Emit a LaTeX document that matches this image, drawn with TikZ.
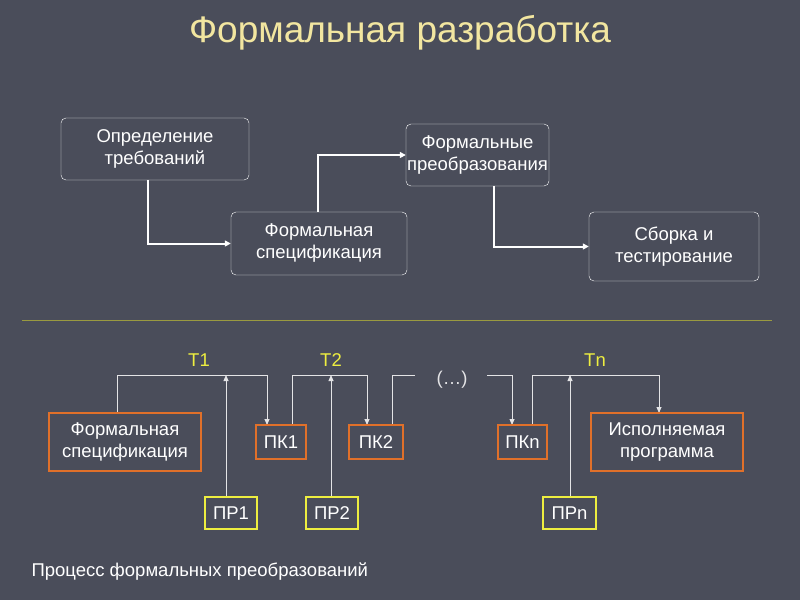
\documentclass[tikz,border=0pt]{standalone}
\usepackage{fontspec}
\setmainfont{Liberation Sans}
\usetikzlibrary{arrows.meta}
\definecolor{bg}{HTML}{4A4D5A}
\definecolor{ttl}{HTML}{F2E6A0}
\definecolor{org}{HTML}{E0702A}
\definecolor{yel}{HTML}{EEEE40}
\definecolor{sep}{HTML}{9A9A40}
\tikzset{
 top/.style={draw=white,fill=bg,rounded corners=5pt,text=white,align=center,font=\fontsize{18.5}{22}\selectfont,inner sep=0pt},
 obox/.style={draw=org,line width=1.3pt,text=white,align=center,font=\fontsize{18.5}{22}\selectfont,inner sep=0pt},
 ybox/.style={draw=yel,line width=1.3pt,text=white,align=center,font=\fontsize{18.5}{22}\selectfont,inner sep=0pt},
 conn/.style={white,line width=2pt,-{Triangle[length=6pt,width=6pt]}},
 bus/.style={white!85!bg,line width=0.8pt},
 busa/.style={bus,-{Triangle[length=6pt,width=5pt]}},
 lab/.style={text=yel,font=\fontsize{18.5}{22}\selectfont}
}
\begin{document}
\begin{tikzpicture}[x=1pt,y=-1pt]
\fill[bg] (0,0) rectangle (800,600);
\useasboundingbox (0,0) rectangle (800,600);
\node[text=ttl,font=\fontsize{37}{42}\selectfont] (title) at (400,33) {Формальная разработка};
\draw[sep,line width=0.8pt] (22,320) -- (772,320);
\coordinate (d1) at (415,375);
\coordinate (d2) at (487,375);
\draw[busa] (117,413) |- (267,375) -- (267,425);
\draw[busa] (292,425) |- (367,375) -- (367,425);
\draw[bus] (392,425) |- (d1);
\draw[busa] (d2) -| (512,425);
\draw[busa] (532,425) |- (659,375) -- (659,413);
\draw[busa] (226,497) -- (226,375);
\draw[busa] (331,497) -- (331,375);
\draw[busa] (570,497) -- (570,375);
\node[top,minimum width=188pt,minimum height=62pt] (A) at (155,149) {Определение\\требований};
\node[top,minimum width=176pt,minimum height=63pt] (B) at (319,243.5) {Формальная\\спецификация};
\node[top,minimum width=143pt,minimum height=62pt] (C) at (477.5,155) {Формальные\\преобразования};
\node[top,minimum width=170pt,minimum height=69pt] (D) at (674,246.5) {Сборка и\\тестирование};
\draw[conn] (A.south -| 148,0) |- (B.west);
\draw[conn] (B.north -| 318,0) |- (C.west);
\draw[conn] (C.south -| 494,0) |- (D.west);
\node[obox,minimum width=152pt,minimum height=58pt] (FS) at (125,442) {Формальная\\спецификация};
\node[obox,minimum width=50pt,minimum height=34pt] (K1) at (281,442) {ПК1};
\node[obox,minimum width=54pt,minimum height=34pt] (K2) at (376,442) {ПК2};
\node[obox,minimum width=49pt,minimum height=34pt] (Kn) at (522.5,442) {ПКn};
\node[obox,minimum width=152pt,minimum height=58pt] (EX) at (667,442) {Исполняемая\\программа};
\node[ybox,minimum width=52pt,minimum height=32pt] (R1) at (231,513) {ПР1};
\node[ybox,minimum width=52pt,minimum height=32pt] (R2) at (332,513) {ПР2};
\node[ybox,minimum width=53pt,minimum height=32pt] (Rn) at (569.5,513) {ПРn};
\node[text=white!85!bg,font=\fontsize{18.5}{22}\selectfont] (dots) at (452,380) {(\dots)};
\node[lab] (T1) at (199,360) {T1};
\node[lab] (T2) at (331,360) {T2};
\node[lab] (Tn) at (595,360) {Tn};
\node[text=white,font=\fontsize{18.5}{22}\selectfont,anchor=west] (cap) at (28,572) {Процесс формальных преобразований};
\end{tikzpicture}
\end{document}
